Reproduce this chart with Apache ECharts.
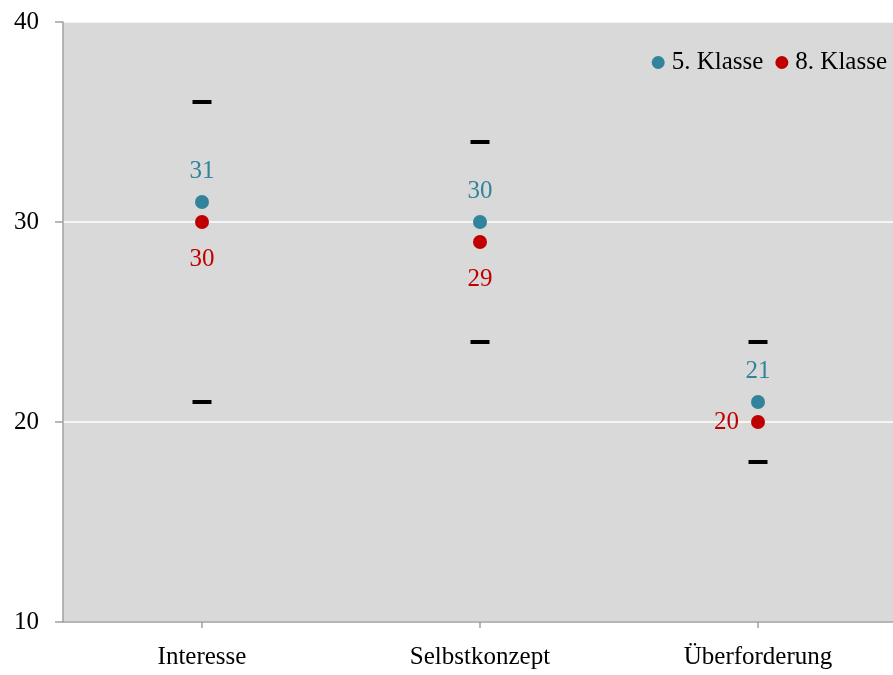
<!DOCTYPE html>
<html><head><meta charset="utf-8">
<script src="https://cdn.jsdelivr.net/npm/echarts@6/dist/echarts.min.js"></script>
<style>html,body{margin:0;padding:0;background:#fff}#c{width:893px;height:675px}</style>
</head><body><div id="c"></div>
<script>
const categories = ['Interesse', 'Selbstkonzept', 'Überforderung'];
const klasse5 = [31, 30, 21];
const klasse8 = [30, 29, 20];
const upper = [36, 34, 24];
const lower = [21, 24, 18];
const yTicks = [10, 20, 30, 40];
const seriesNames = ['5. Klasse', '8. Klasse'];

const FONT = 'Liberation Serif';
const FS = 25;
const chart = echarts.init(document.getElementById('c'));
chart.setOption({
  animation: false,
  textStyle: { fontFamily: FONT },
  grid: { left: 63, right: -4, top: 22, bottom: 53, backgroundColor: '#d9d9d9', show: true, borderWidth: 0, outerBoundsMode: 'none' },
  legend: {
    data: seriesNames, right: 1, top: 45, icon: 'circle', itemWidth: 13, itemHeight: 13, itemGap: 12,
    textStyle: { fontFamily: FONT, fontSize: FS, color: '#000', padding: [0, 0, 0, 2] }
  },
  xAxis: {
    type: 'category', data: categories,
    axisLine: { lineStyle: { color: '#a0a0a0', width: 1.5 } },
    axisTick: { show: true, length: 6, alignWithLabel: true, lineStyle: { color: '#a0a0a0', width: 1.5 } },
    axisLabel: { fontFamily: FONT, fontSize: FS, color: '#000', margin: 23 }
  },
  yAxis: {
    type: 'value', min: yTicks[0], max: yTicks[yTicks.length - 1], interval: 10,
    axisLine: { show: true, lineStyle: { color: '#a0a0a0', width: 1.5 } },
    axisTick: { show: true, length: 8, lineStyle: { color: '#a0a0a0', width: 1.5 } },
    axisLabel: { fontFamily: FONT, fontSize: FS, color: '#000', margin: 24 },
    splitLine: { show: true, lineStyle: { color: '#fff', width: 1.5 } }
  },
  series: [
    { name: 'upper', type: 'scatter', data: upper, symbol: 'rect', symbolSize: [19, 4], itemStyle: { color: '#000', opacity: 1 }, silent: true },
    { name: 'lower', type: 'scatter', data: lower, symbol: 'rect', symbolSize: [19, 4], itemStyle: { color: '#000', opacity: 1 }, silent: true },
    {
      name: seriesNames[0], type: 'scatter', data: klasse5, symbol: 'circle', symbolSize: 14,
      itemStyle: { color: '#31849b', opacity: 1 }, z: 3,
      label: { show: true, position: 'top', distance: 11, fontFamily: FONT, fontSize: FS, color: '#31849b' }
    },
    {
      name: seriesNames[1], type: 'scatter', symbol: 'circle', symbolSize: 14, z: 4,
      data: klasse8.map((v, i) => i === 2
        ? { value: v, label: { position: 'left', distance: 12 } }
        : v),
      itemStyle: { color: '#c00000', opacity: 1 },
      label: { show: true, position: 'bottom', distance: 18, fontFamily: FONT, fontSize: FS, color: '#c00000' }
    }
  ]
});
</script></body></html>
